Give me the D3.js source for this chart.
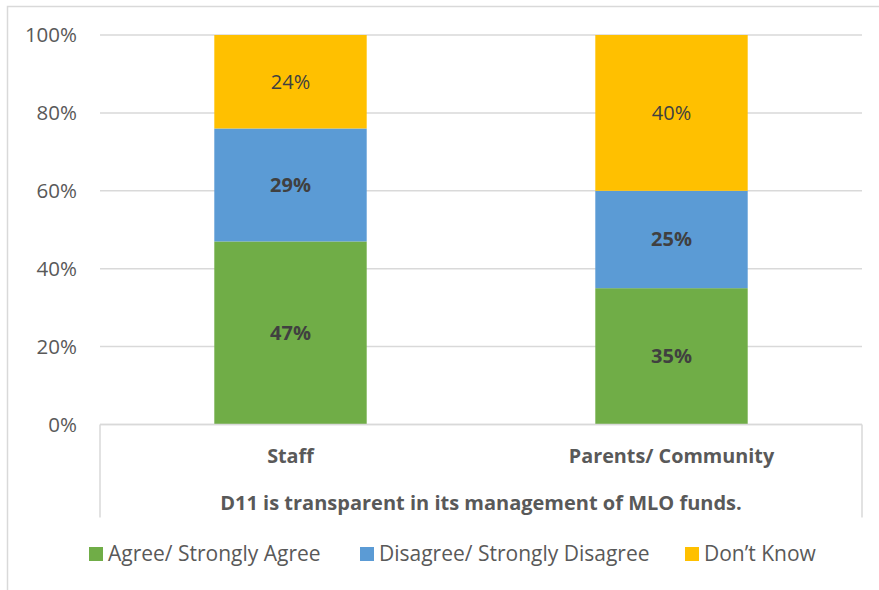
<!DOCTYPE html>
<html>
<head>
<meta charset="utf-8">
<script src="https://cdn.jsdelivr.net/npm/d3@7"></script>
<style>
	body { margin: 0; background: #fff; }
	svg { display: block; font-family: "Open Sans", sans-serif; }
</style>
</head>
<body>
<svg id="chart"></svg>
<script>
	// data
	var categories = ["Staff", "Parents/ Community"];
	var seriesNames = ["Agree/ Strongly Agree", "Disagree/ Strongly Disagree", "Don\u2019t Know"];
	var agree = [47, 35];
	var disagree = [29, 25];
	var dontKnow = [24, 40];
	var yTicks = [0, 20, 40, 60, 80, 100];
	var groupTitle = "D11 is transparent in its management of MLO funds.";

	var colors = ["#70AD47", "#5B9BD5", "#FFC000"];
	var labelWeight = ["bold", "bold", "normal"];

	var W = 879, H = 590;
	var margin = { top: 35, right: 17, bottom: 165.5, left: 100 };
	var width = W - margin.left - margin.right;
	var height = H - margin.top - margin.bottom;

	var svg = d3.select("#chart").attr("width", W).attr("height", H);

	// outer chart border
	svg.append("rect")
		.attr("x", 7.5).attr("y", 6.5)
		.attr("width", W + 20).attr("height", H + 20)
		.attr("fill", "none")
		.attr("stroke", "#d9d9d9")
		.attr("stroke-width", 1.5);

	var g = svg.append("g").attr("transform", "translate(" + margin.left + "," + margin.top + ")");

	var x = d3.scaleBand().domain(categories).range([0, width]).padding(0);
	var barW = x.bandwidth() * 0.4;
	var y = d3.scaleLinear().domain([0, 100]).range([height, 0]);

	// gridlines
	g.append("g")
		.selectAll("line")
		.data(yTicks)
		.join("line")
		.attr("x1", 0).attr("x2", width)
		.attr("y1", function(d) { return y(d); })
		.attr("y2", function(d) { return y(d); })
		.attr("stroke", "#d9d9d9")
		.attr("stroke-width", 1.5);

	// y axis labels
	var yAxis = g.append("g")
		.call(d3.axisLeft(y).tickValues(yTicks).tickSize(0).tickPadding(23)
			.tickFormat(function(d) { return d + "%"; }));
	yAxis.select(".domain").remove();
	yAxis.selectAll("text")
		.attr("fill", "#595959")
		.style("font-size", "20.5px")
		.style("font-family", "'Open Sans', sans-serif");

	// stacked data
	var rows = categories.map(function(c, i) {
		return { cat: c, agree: agree[i], disagree: disagree[i], dontKnow: dontKnow[i] };
	});
	var stack = d3.stack().keys(["agree", "disagree", "dontKnow"]);
	var layers = stack(rows);

	var layer = g.selectAll(".layer")
		.data(layers)
		.join("g")
		.attr("class", "layer")
		.attr("fill", function(d, i) { return colors[i]; });

	layer.selectAll("rect")
		.data(function(d) { return d; })
		.join("rect")
		.attr("x", function(d) { return x(d.data.cat) + (x.bandwidth() - barW) / 2; })
		.attr("width", barW)
		.attr("y", function(d) { return y(d[1]); })
		.attr("height", function(d) { return y(d[0]) - y(d[1]); });

	layer.each(function(L, li) {
		d3.select(this).selectAll("text")
			.data(L)
			.join("text")
			.attr("x", function(d) { return x(d.data.cat) + x.bandwidth() / 2; })
			.attr("y", function(d) { return y((d[0] + d[1]) / 2); })
			.attr("dy", "0.35em")
			.attr("text-anchor", "middle")
			.attr("fill", "#404040")
			.style("font-size", "20px")
			.style("font-weight", labelWeight[li])
			.text(function(d) { return (d[1] - d[0]) + "%"; });
	});

	// category axis
	var axisG = g.append("g").attr("transform", "translate(0," + height + ")");
	axisG.append("line")
		.attr("x1", 0).attr("x2", width)
		.attr("stroke", "#d9d9d9").attr("stroke-width", 1.5);
	axisG.selectAll(".side")
		.data([0, width])
		.join("line")
		.attr("class", "side")
		.attr("x1", function(d) { return d; }).attr("x2", function(d) { return d; })
		.attr("y1", 0).attr("y2", 93)
		.attr("stroke", "#d9d9d9").attr("stroke-width", 1.5);

	axisG.selectAll(".cat")
		.data(categories)
		.join("text")
		.attr("class", "cat")
		.attr("x", function(d) { return x(d) + x.bandwidth() / 2; })
		.attr("y", 32)
		.attr("dy", "0.35em")
		.attr("text-anchor", "middle")
		.attr("fill", "#595959")
		.style("font-size", "19.8px")
		.style("font-weight", "bold")
		.text(function(d) { return d; });

	axisG.append("text")
		.attr("x", width / 2)
		.attr("y", 78)
		.attr("dy", "0.35em")
		.attr("text-anchor", "middle")
		.attr("fill", "#595959")
		.style("font-size", "20px")
		.style("font-weight", "bold")
		.text(groupTitle);

	// legend
	var legendX = [89, 360, 685];
	var legend = svg.append("g").attr("transform", "translate(0,554)");
	var item = legend.selectAll("g")
		.data(seriesNames)
		.join("g")
		.attr("transform", function(d, i) { return "translate(" + legendX[i] + ",0)"; });
	item.append("rect")
		.attr("x", 0).attr("y", -7)
		.attr("width", 14).attr("height", 14)
		.attr("fill", function(d, i) { return colors[i]; });
	item.append("text")
		.attr("x", 19)
		.attr("dy", "0.35em")
		.attr("fill", "#595959")
		.style("font-size", "21px")
		.text(function(d) { return d; });
</script>
</body>
</html>
